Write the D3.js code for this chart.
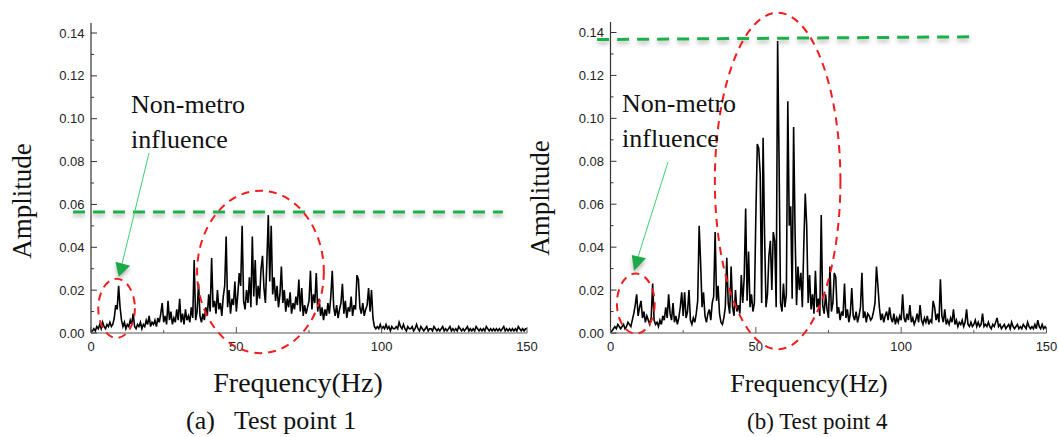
<!DOCTYPE html>
<html>
<head>
<meta charset="utf-8">
<script src="https://cdn.jsdelivr.net/npm/d3@7/dist/d3.min.js"></script>
<style>
  html, body { margin: 0; padding: 0; background: #fff; }
  svg { display: block; }
  .tick-label { font-family: "Liberation Sans", Arial, sans-serif; font-size: 13px; fill: #222; }
  .serif { font-family: "Liberation Serif", "Times New Roman", serif; fill: #111; }
</style>
</head>
<body>
<svg id="chart" width="1058" height="437"></svg>
<script>
// Frequency grid (Hz): spectra are sampled every 0.5 Hz from 0 to 150 Hz
const freqStep = 0.5;

// Test point 1 amplitude spectrum, in units of 1e-3
const ampTP1 = [
  0.5,1,2,1,3,2,4,2,5,3, 2,4,3,5,3,4,7,13,11,22,
  12,6,3,5,2,4,3,6,4,9, 3,2,4,3,5,2,4,3,6,4,
  8,3,5,4,6,3,7,5,9,14, 5,8,4,15,6,10,4,7,5,11,
  6,16,5,9,4,11,6,8,5,12, 7,34,6,10,23,8,5,9,6,12,
  8,18,10,35,12,15,9,20,11,14, 8,17,22,45,12,20,9,16,13,24,
  10,18,28,22,50,15,11,20,14,26, 12,45,17,34,13,22,16,30,36,21,
  14,33,55,24,50,18,26,15,22,12, 18,31,14,20,10,16,12,19,9,14,
  11,17,13,25,10,21,8,13,9,12, 15,29,11,18,14,28,10,16,8,12,
  6,11,8,14,9,17,29,12,8,13, 7,11,14,23,9,15,7,12,10,17,
  8,13,11,27,25,12,9,14,8,11, 13,21,10,20,7,3,2,3,2,4,
  2,3,2,4,2,3,1,3,2,2, 3,2,5,3,2,4,2,1,3,2,
  2,3,1,2,4,2,1,3,2,1, 2,3,1,2,2,1,3,2,1,2,
  1,2,3,1,2,1,2,3,1,2, 1,2,1,3,2,1,2,1,2,3,
  1,2,1,2,1,3,2,1,2,1, 2,1,3,2,1,2,1,2,1,2,
  1,2,1,2,3,1,2,1,2,1, 2,1,2,1,3,2,1,2,1,2,
  2
];

// Test point 4 amplitude spectrum, in units of 1e-3
const ampTP4 = [
  0.5,1,2,3,2,4,3,2,3,4, 2,3,5,4,3,6,9,13,18,8,
  12,15,7,10,5,8,6,4,7,23, 6,4,5,3,6,4,8,6,12,7,
  18,9,6,14,5,8,4,7,12,19, 8,19,7,10,20,6,4,7,5,9,
  15,50,33,12,19,8,5,9,11,6, 14,17,47,15,22,9,5,4,7,12,
  35,14,9,31,12,8,20,10,13,9, 27,14,26,58,15,38,12,18,10,14,
  54,88,86,74,14,91,46,12,18,36, 43,20,47,43,12,136,79,14,10,23,
  12,18,108,50,59,16,96,47,13,31, 20,28,12,41,65,50,14,27,11,18,
  9,29,12,16,8,55,13,9,18,11, 7,31,10,14,28,26,9,12,6,10,
  8,23,7,11,5,9,21,8,6,10, 5,8,12,28,7,10,5,9,8,6,
  7,10,14,31,22,12,6,9,5,8, 10,6,12,7,5,9,4,7,5,8,
  6,18,7,5,9,6,13,5,7,4, 6,9,5,13,6,4,7,5,8,4,
  6,5,15,12,6,9,5,25,8,5, 11,4,6,4,7,5,11,4,6,3,
  5,4,6,3,5,11,4,3,5,3, 4,6,3,5,3,4,9,3,4,3,
  5,3,2,4,3,5,7,3,4,2, 3,4,2,3,4,2,5,3,2,3,
  4,2,3,2,4,3,2,5,3,2, 3,2,4,2,6,3,2,4,2,3,
  2
];

// Axis ticks
const xTicks = [0, 50, 100, 150];
const xMinorTicks = [25, 75, 125];
const yTicks = [0, 20, 40, 60, 80, 100, 120, 140];
const yTickLabels = ["0.00", "0.02", "0.04", "0.06", "0.08", "0.10", "0.12", "0.14"];
const yMinorTicks = [10, 30, 50, 70, 90, 110, 130];

// Threshold lines (Hz, amplitude ×1e-3)
const thresholdTP1 = [[-6.2, 56.5], [141.7, 56.5]];
const thresholdTP4 = [[-4.6, 136.7], [124.6, 138.0]];

// Highlight ellipses: centre (Hz, ×1e-3) and half-widths (Hz, ×1e-3)
const ringsTP1 = [
  { cx: 8.8, cy: 11.5, rx: 6.3, ry: 13.8 },
  { cx: 58.3, cy: 28.5, rx: 21.8, ry: 37.9 }
];
const ringsTP4 = [
  { cx: 8.7, cy: 13.7, rx: 6.5, ry: 14.0 },
  { cx: 57.5, cy: 70.8, rx: 21.6, ry: 78.4 }
];

const annotation = ["Non-metro", "influence"];
const xTitle = "Frequency(Hz)";
const yTitle = "Amplitude";
const captions = ["(a)   Test point 1", "(b) Test point 4"];

const svg = d3.select("#chart");

// Soft grey shadow under the green marks (user-space region so flat lines keep it)
const defs = svg.append("defs");
const shadow = defs.append("filter").attr("id", "soft-shadow")
  .attr("filterUnits", "userSpaceOnUse")
  .attr("x", 0).attr("y", 0).attr("width", 1058).attr("height", 437);
shadow.append("feDropShadow").attr("dx", 0).attr("dy", 3).attr("stdDeviation", 2)
  .attr("flood-color", "#777").attr("flood-opacity", 0.55);

function drawPanel(cfg) {
  const x = d3.scaleLinear().domain([0, 150]).range([cfg.left, cfg.right]);
  const y = d3.scaleLinear().domain([0, 140]).range([cfg.bottom, cfg.top]);
  const g = svg.append("g");

  // Spectrum trace
  const line = d3.line()
    .x((d, i) => x(i * freqStep))
    .y(d => y(d));
  g.append("path")
    .datum(cfg.values)
    .attr("d", line)
    .attr("fill", "none")
    .attr("stroke", "#000")
    .attr("stroke-width", 1.6)
    .attr("stroke-linejoin", "miter");

  // Axes with inward ticks
  const axisColor = "#333";
  g.append("line")
    .attr("x1", cfg.left).attr("x2", cfg.left)
    .attr("y1", cfg.bottom).attr("y2", cfg.axisTop)
    .attr("stroke", axisColor).attr("stroke-width", 1.2);
  g.append("line")
    .attr("x1", cfg.left).attr("x2", cfg.right)
    .attr("y1", cfg.bottom).attr("y2", cfg.bottom)
    .attr("stroke", "#555").attr("stroke-width", 1.2);

  g.selectAll(".ymaj").data(yTicks).enter().append("line")
    .attr("x1", cfg.left).attr("x2", cfg.left + 6)
    .attr("y1", d => y(d)).attr("y2", d => y(d))
    .attr("stroke", axisColor).attr("stroke-width", 1);
  g.selectAll(".ymin").data(yMinorTicks).enter().append("line")
    .attr("x1", cfg.left).attr("x2", cfg.left + 3)
    .attr("y1", d => y(d)).attr("y2", d => y(d))
    .attr("stroke", axisColor).attr("stroke-width", 1);
  g.selectAll(".xmaj").data(xTicks).enter().append("line")
    .attr("x1", d => x(d)).attr("x2", d => x(d))
    .attr("y1", cfg.bottom).attr("y2", cfg.bottom - 6)
    .attr("stroke", "#555").attr("stroke-width", 1);
  g.selectAll(".xmin").data(xMinorTicks).enter().append("line")
    .attr("x1", d => x(d)).attr("x2", d => x(d))
    .attr("y1", cfg.bottom).attr("y2", cfg.bottom - 3)
    .attr("stroke", "#555").attr("stroke-width", 1);

  g.selectAll(".ylab").data(yTicks).enter().append("text")
    .attr("class", "tick-label")
    .attr("x", cfg.left - 6.5)
    .attr("y", d => y(d) + 4.5)
    .attr("text-anchor", "end")
    .text((d, i) => yTickLabels[i]);
  g.selectAll(".xlab").data(xTicks).enter().append("text")
    .attr("class", "tick-label")
    .attr("x", d => x(d))
    .attr("y", cfg.bottom + 18)
    .attr("text-anchor", "middle")
    .text(d => d);

  // Axis titles
  g.append("text").attr("class", "serif")
    .attr("transform", `translate(${cfg.yTitleX},${cfg.yTitleY}) rotate(-90)`)
    .attr("text-anchor", "middle")
    .style("font-size", "27px")
    .text(yTitle);
  g.append("text").attr("class", "serif")
    .attr("x", cfg.xTitleX).attr("y", 392)
    .attr("text-anchor", "middle")
    .style("font-size", cfg.xTitleSize + "px")
    .text(xTitle);
  g.append("text").attr("class", "serif")
    .attr("x", cfg.captionX).attr("y", 429)
    .style("font-size", cfg.captionSize + "px")
    .style("white-space", "pre")
    .text(cfg.caption);

  // Threshold line
  g.append("path")
    .datum(cfg.threshold)
    .attr("d", d3.line().x(d => x(d[0])).y(d => y(d[1])))
    .attr("fill", "none")
    .attr("stroke", "#1db04c")
    .attr("stroke-width", 3)
    .attr("stroke-dasharray", "12,8")
    .attr("filter", "url(#soft-shadow)");

  // Highlight ellipses
  g.selectAll(".ring").data(cfg.rings).enter().append("ellipse")
    .attr("cx", d => x(d.cx))
    .attr("cy", d => y(d.cy))
    .attr("rx", d => x(d.rx) - x(0))
    .attr("ry", d => y(0) - y(d.ry))
    .attr("fill", "none")
    .attr("stroke", "#f21c1c")
    .attr("stroke-width", 2)
    .attr("stroke-dasharray", "8,6");

  // Annotation text and arrow
  const t = g.append("text").attr("class", "serif").style("font-size", "26px");
  t.append("tspan").attr("x", cfg.noteX).attr("y", cfg.noteY).text(annotation[0]);
  t.append("tspan").attr("x", cfg.noteX).attr("y", cfg.noteY + 35).text(annotation[1]);

  const a = cfg.arrow;
  g.append("line")
    .attr("x1", a.x1).attr("y1", a.y1).attr("x2", a.bx).attr("y2", a.by)
    .attr("stroke", "#3ccf72").attr("stroke-width", 1);
  g.append("path")
    .attr("d", d3.line()(a.head))
    .attr("fill", "#1aa94a")
    .attr("filter", "url(#soft-shadow)");
}

drawPanel({
  values: ampTP1, threshold: thresholdTP1, rings: ringsTP1,
  left: 91, right: 527, top: 33, bottom: 333, axisTop: 23,
  yTitleX: 31, yTitleY: 201, xTitleX: 298, xTitleSize: 28,
  captionX: 186, captionSize: 26, caption: captions[0],
  noteX: 131, noteY: 113,
  arrow: { x1: 149, y1: 153, bx: 122, by: 264,
           head: [[115.4, 261.7], [130.2, 265.7], [118.8, 276.7], [115.4, 261.7]] }
});

drawPanel({
  values: ampTP4, threshold: thresholdTP4, rings: ringsTP4,
  left: 610.5, right: 1046.5, top: 32.5, bottom: 333, axisTop: 22,
  yTitleX: 549, yTitleY: 198, xTitleX: 809, xTitleSize: 26,
  captionX: 747, captionSize: 23, caption: captions[1],
  noteX: 622, noteY: 112,
  arrow: { x1: 668, y1: 162, bx: 638, by: 257,
           head: [[631.7, 255], [646, 258.3], [634, 270.7], [631.7, 255]] }
});
</script>
</body>
</html>
